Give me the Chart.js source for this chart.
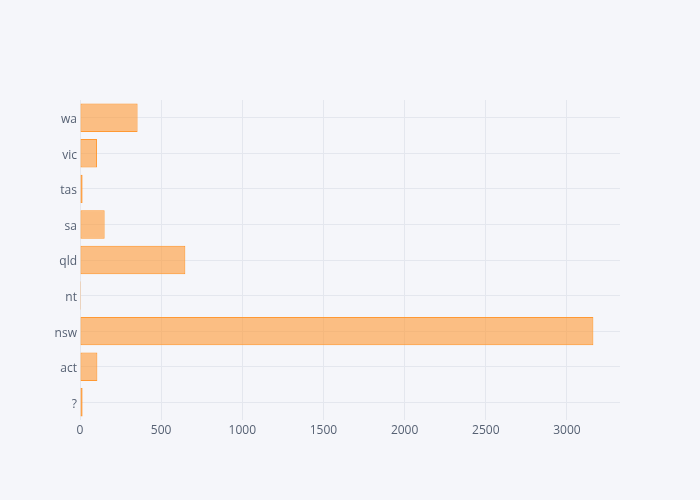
<!DOCTYPE html>
<html>
<head>
<meta charset="utf-8">
<script src="https://cdn.jsdelivr.net/npm/chart.js@4"></script>
<style>
html,body{margin:0;padding:0;background:#f5f6fa;}
#wrap{width:700px;height:500px;position:relative;}
</style>
</head>
<body>
<div id="wrap"><canvas id="c" width="700" height="500"></canvas></div>
<script>
const categories = ['?', 'act', 'nsw', 'nt', 'qld', 'sa', 'tas', 'vic', 'wa'];
const counts = [16, 107, 3163, 5, 649, 152, 16, 105, 355];
const xTicks = [0, 500, 1000, 1500, 2000, 2500, 3000];
const xMax = 3327;

const gridColor = '#e4e7ee';
const textColor = '#566173';

new Chart(document.getElementById('c'), {
  type: 'bar',
  data: {
    labels: categories,
    datasets: [{
      data: counts,
      backgroundColor: 'rgba(255,153,51,0.6)',
      borderColor: 'rgba(255,153,51,1)',
      borderWidth: 1,
      borderSkipped: false,
      minBarLength: 1,
      categoryPercentage: 1,
      barPercentage: 0.8
    }]
  },
  options: {
    indexAxis: 'y',
    responsive: false,
    animation: false,
    layout: { padding: { left: 0, right: 80, top: 100, bottom: 0 } },
    plugins: { legend: { display: false }, tooltip: { enabled: false } },
    scales: {
      x: {
        min: 0,
        max: xMax,
        afterFit: s => { s.height = 80; },
        afterBuildTicks: s => { s.ticks = xTicks.map(v => ({ value: v })); },
        grid: { color: gridColor, drawTicks: false, lineWidth: 1 },
        border: { display: false },
        ticks: { color: textColor, font: { family: 'Open Sans', size: 12 }, padding: 3,
                 callback: v => String(v) }
      },
      y: {
        reverse: true,
        afterFit: s => { s.width = 80; },
        grid: { color: gridColor, drawTicks: false, offset: false, lineWidth: 1 },
        border: { display: false },
        ticks: { color: textColor, font: { family: 'Open Sans', size: 12 }, padding: 3, labelOffset: 2 }
      }
    }
  }
});
</script>
</body>
</html>
